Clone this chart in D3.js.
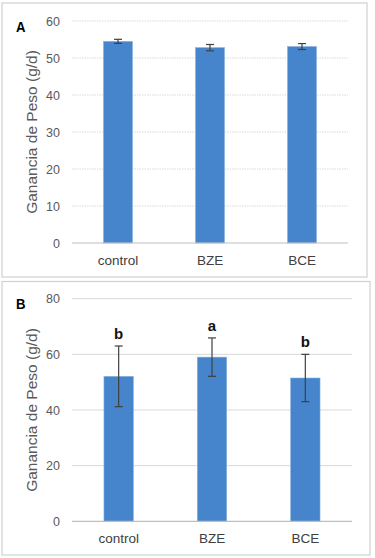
<!DOCTYPE html>
<html>
<head>
<meta charset="utf-8">
<script src="https://cdn.jsdelivr.net/npm/d3@7"></script>
<style>
  body { margin: 0; background: #fff; }
  svg { display: block; font-family: "Liberation Sans", Arial, sans-serif; }
</style>
</head>
<body>
<svg id="chart" width="375" height="558"></svg>
<script>
const categories = ["control", "BZE", "BCE"];

// panel A
const valuesA = [54.5, 52.8, 53.1];
const errorsA = [0.55, 0.85, 0.8];
const ticksA = [0, 10, 20, 30, 40, 50, 60];

// panel B
const valuesB = [52.1, 59.0, 51.5];
const errorsB = [10.9, 6.9, 8.5];
const lettersB = ["b", "a", "b"];
const ticksB = [0, 20, 40, 60, 80];

const svg = d3.select("#chart");

function drawPanel(opt) {
  const g = svg.append("g");

  // frame
  g.append("rect")
    .attr("x", opt.frame[0]).attr("y", opt.frame[1])
    .attr("width", opt.frame[2]).attr("height", opt.frame[3])
    .attr("fill", "#fff")
    .attr("stroke", "#d0d0d0")
    .attr("stroke-width", 1.2);

  const x = d3.scaleBand()
    .domain(categories)
    .range([opt.left, opt.right])
    .paddingInner(0.685)
    .paddingOuter(0.3425);

  const y = d3.scaleLinear()
    .domain([0, opt.max])
    .range([opt.bottom, opt.top]);

  // gridlines
  g.append("g")
    .selectAll("line")
    .data(opt.ticks.filter(t => t > 0))
    .enter()
    .append("line")
    .attr("x1", opt.left).attr("x2", opt.right)
    .attr("y1", d => y(d)).attr("y2", d => y(d))
    .attr("stroke", "#d9d9d9")
    .attr("stroke-width", 1)
    .attr("stroke-dasharray", opt.dashed ? "1.5,1" : null);

  // y axis ticks
  const yAxisG = g.append("g")
    .attr("transform", "translate(" + (opt.left - 12) + ",0)")
    .call(d3.axisLeft(y).tickValues(opt.ticks).tickSize(0).tickPadding(0));
  yAxisG.select(".domain").remove();
  yAxisG.selectAll("text")
    .attr("fill", "#595959")
    .style("font-size", "12.5px");

  // bars
  g.selectAll(".bar")
    .data(opt.values)
    .enter()
    .append("rect")
    .attr("class", "bar")
    .attr("x", (d, i) => x(categories[i]))
    .attr("y", d => y(d))
    .attr("width", x.bandwidth())
    .attr("height", d => opt.bottom - y(d))
    .attr("fill", "#4684cb")
    .attr("stroke", "#8ab0dc")
    .attr("stroke-width", 0.6);

  // baseline
  g.append("line")
    .attr("x1", opt.left).attr("x2", opt.right)
    .attr("y1", y(0)).attr("y2", y(0))
    .attr("stroke", "#bfbfbf")
    .attr("stroke-width", 1.2);

  // x labels
  const xAxisG = g.append("g")
    .attr("transform", "translate(0," + opt.bottom + ")")
    .call(d3.axisBottom(x).tickSize(0).tickPadding(12));
  xAxisG.select(".domain").remove();
  xAxisG.selectAll("text")
    .attr("fill", "#404040")
    .style("font-size", "13.5px");

  // error bars
  const err = g.append("g")
    .attr("stroke", "#404040")
    .attr("stroke-width", 1.2);
  opt.values.forEach((v, i) => {
    const cx = x(categories[i]) + x.bandwidth() / 2;
    const e = opt.errors[i];
    err.append("line").attr("x1", cx).attr("x2", cx).attr("y1", y(v + e)).attr("y2", y(v - e));
    err.append("line").attr("x1", cx - 4).attr("x2", cx + 4).attr("y1", y(v + e)).attr("y2", y(v + e));
    err.append("line").attr("x1", cx - 4).attr("x2", cx + 4).attr("y1", y(v - e)).attr("y2", y(v - e));
  });

  // significance letters
  if (opt.letters) {
    g.selectAll(".letter")
      .data(opt.letters)
      .enter()
      .append("text")
      .attr("x", (d, i) => x(categories[i]) + x.bandwidth() / 2)
      .attr("y", (d, i) => y(opt.values[i] + opt.errors[i]) - 7)
      .attr("text-anchor", "middle")
      .attr("font-weight", "bold")
      .attr("fill", "#111")
      .style("font-size", "15px")
      .text(d => d);
  }

  // y axis title
  g.append("text")
    .attr("transform", "translate(" + 37 + "," + ((opt.top + opt.bottom) / 2) + ") rotate(-90)")
    .attr("text-anchor", "middle")
    .attr("fill", "#595959")
    .style("font-size", "15.5px")
    .text("Ganancia de Peso (g/d)");

  // panel letter
  g.append("text")
    .attr("transform", "translate(" + (opt.frame[0] + 14) + "," + opt.letterY + ") scale(0.85,1)")
    .attr("font-weight", "bold")
    .attr("fill", "#000")
    .style("font-size", "15.5px")
    .text(opt.label);
}

drawPanel({
  frame: [2, 3, 365, 274],
  left: 72, right: 348, top: 21, bottom: 243,
  max: 60, ticks: ticksA, values: valuesA, errors: errorsA,
  dashed: true, label: "A", letterY: 32
});

drawPanel({
  frame: [2, 281.5, 368, 273.5],
  left: 72, right: 352, top: 298.7, bottom: 521.3,
  max: 80, ticks: ticksB, values: valuesB, errors: errorsB,
  letters: lettersB, dashed: false, label: "B", letterY: 309
});
</script>
</body>
</html>
